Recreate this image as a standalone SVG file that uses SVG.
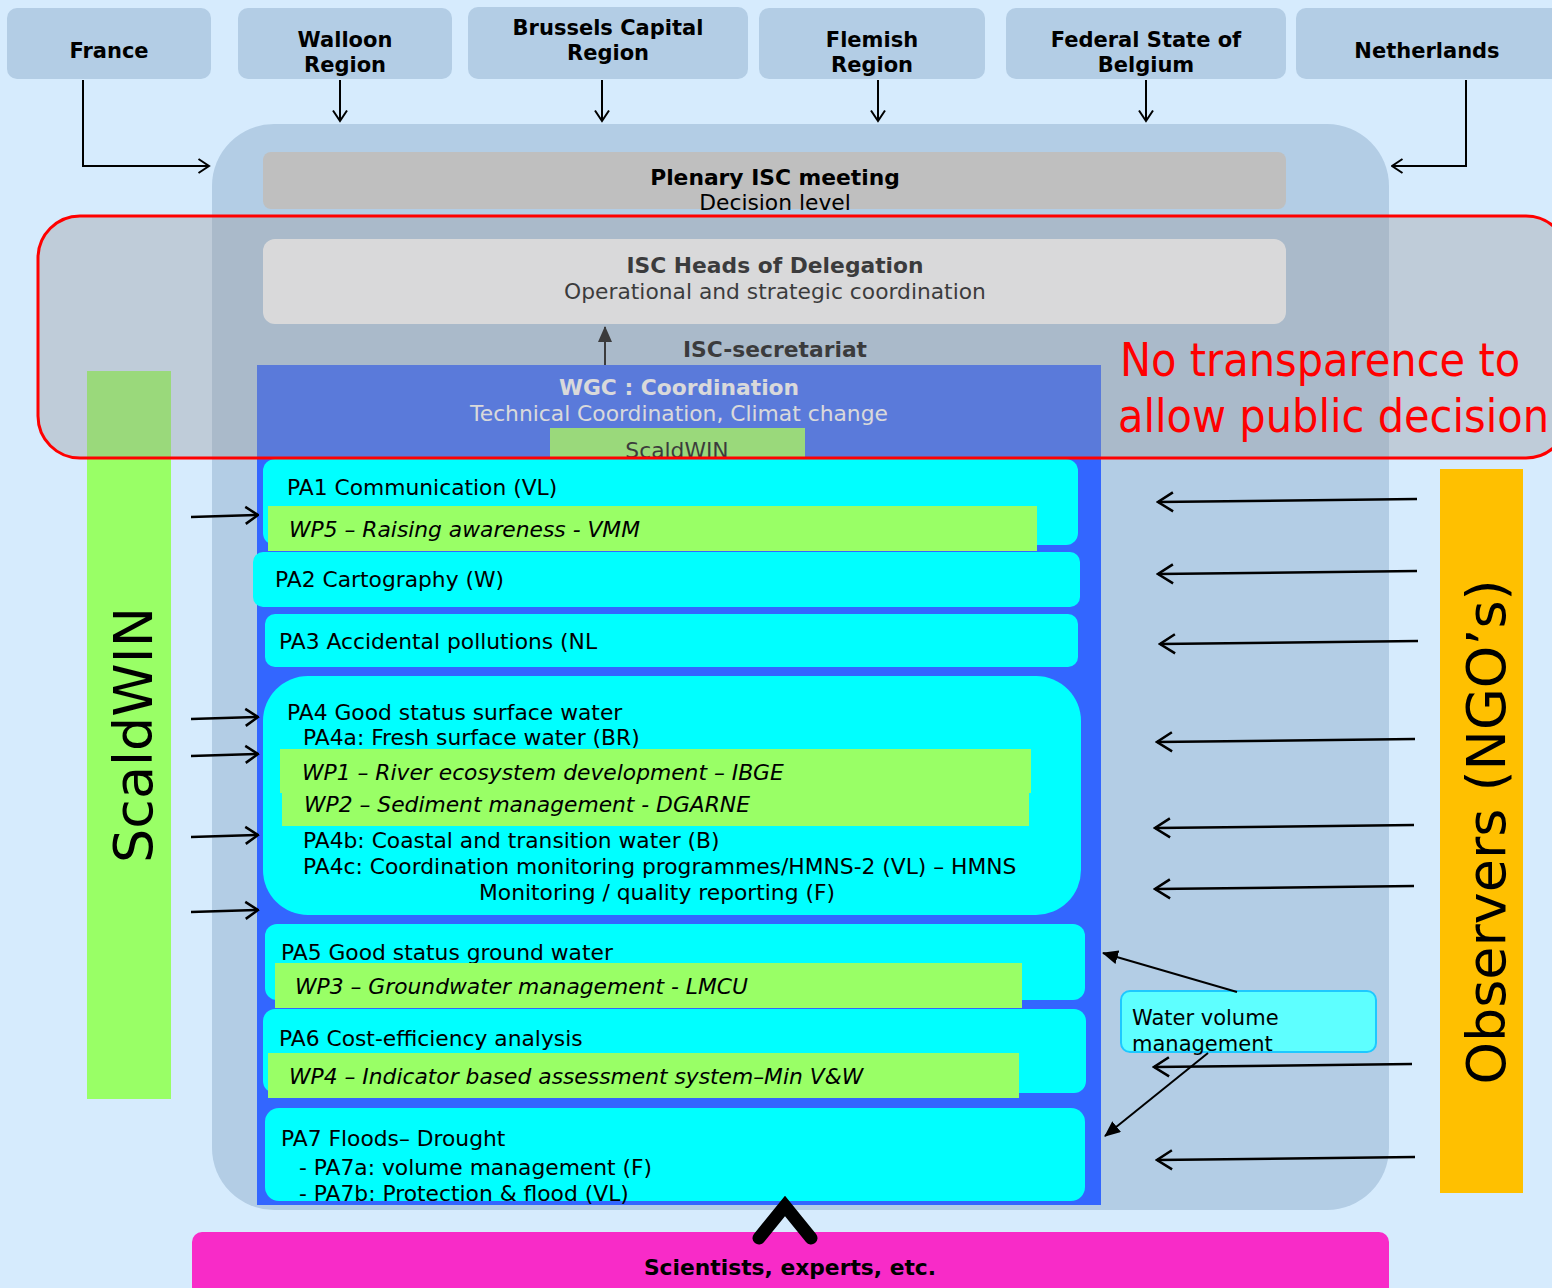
<svg xmlns="http://www.w3.org/2000/svg" width="1552" height="1288" viewBox="0 0 1552 1288">
<style>
text{font-family:"DejaVu Sans","Verdana",sans-serif;fill:#000;font-size:21.8px}
.b{font-weight:bold}
.c{text-anchor:middle}
.i{font-style:italic}
.t21{font-size:21px}
.big{font-size:54px}
.red{font-size:41.6px;fill:#ff0000}
.top{fill:#b3cde5}
.pa{fill:#00ffff}
.wp{fill:#99ff66}
.ln{stroke:#000;stroke-width:2;fill:none}
.lw{stroke:#000;stroke-width:2.5;fill:none}
</style>
<defs>
<marker id="open" viewBox="0 0 14 16" refX="12.5" refY="8" markerWidth="14" markerHeight="16" markerUnits="userSpaceOnUse" orient="auto">
<path d="M2,1 L12.5,8 L2,15" fill="none" stroke="#000" stroke-width="2"/>
</marker>
<marker id="openS" viewBox="0 0 16 20" refX="14.5" refY="10" markerWidth="16" markerHeight="20" markerUnits="userSpaceOnUse" orient="auto">
<path d="M2,1.5 L14.5,10 L2,18.5" fill="none" stroke="#000" stroke-width="2.5"/>
</marker>
<marker id="openL" viewBox="0 0 18 22" refX="16" refY="11" markerWidth="18" markerHeight="22" markerUnits="userSpaceOnUse" orient="auto">
<path d="M1,1.5 L16,11 L1,20.5" fill="none" stroke="#000" stroke-width="2.5"/>
</marker>
<marker id="fill" viewBox="0 0 16 14" refX="15" refY="7" markerWidth="16" markerHeight="14" markerUnits="userSpaceOnUse" orient="auto">
<path d="M0,0 L16,7 L0,14 Z" fill="#000"/>
</marker>
</defs>
<rect width="1552" height="1288" fill="#d6ebfd"/>

<g id="france"><rect class="top" x="7" y="8" width="204" height="71" rx="10"/><text class="b c t21" x="109" y="58">France</text></g>
<g id="walloon"><rect class="top" x="238" y="8" width="214" height="71" rx="10"/><text class="b c t21" x="345" y="47">Walloon</text><text class="b c t21" x="345" y="72">Region</text></g>
<g id="brussels"><rect class="top" x="468" y="7" width="280" height="72" rx="10"/><text class="b c t21" x="608" y="35">Brussels Capital</text><text class="b c t21" x="608" y="60">Region</text></g>
<g id="flemish"><rect class="top" x="759" y="8" width="226" height="71" rx="10"/><text class="b c t21" x="872" y="47">Flemish</text><text class="b c t21" x="872" y="72">Region</text></g>
<g id="federal"><rect class="top" x="1006" y="8" width="280" height="71" rx="10"/><text class="b c t21" x="1146" y="47">Federal State of</text><text class="b c t21" x="1146" y="72">Belgium</text></g>
<g id="netherlands"><rect class="top" x="1296" y="8" width="270" height="71" rx="10"/><text class="b c t21" x="1427" y="58">Netherlands</text></g>

<g id="isc-container"><rect x="212" y="124" width="1177" height="1086" rx="62" fill="#b3cde5"/></g>

<g id="plenary"><rect x="263" y="152" width="1023" height="57" rx="8" fill="#bfbfbf"/><text class="b c" x="775" y="185">Plenary ISC meeting</text><text class="c" x="775" y="210">Decision level</text></g>

<g id="heads"><rect x="263" y="239" width="1023" height="85" rx="12" fill="#ffffff"/><text class="b c" x="775" y="273">ISC Heads of Delegation</text><text class="c" x="775" y="299">Operational and strategic coordination</text></g>

<g id="secretariat"><text class="b c" x="775" y="357">ISC-secretariat</text></g>

<g id="scaldwin-bar"><rect x="87" y="371" width="84" height="728" fill="#99ff66"/><text class="c big" transform="translate(152,735) rotate(-90)">ScaldWIN</text></g>

<g id="wgc"><rect x="257" y="365" width="844" height="840" fill="#3366ff"/><text class="b c" x="679" y="395" style="fill:#fff">WGC : Coordination</text><text class="c" x="679" y="421" style="fill:#fff">Technical Coordination, Climat change</text></g>

<g id="scaldwin-label"><rect x="550" y="428" width="255" height="44" fill="#99ff66"/><text class="c" x="677" y="458">ScaldWIN</text></g>

<g id="pa1"><rect class="pa" x="263" y="459" width="815" height="86" rx="12"/><text x="287" y="495">PA1 Communication (VL)</text></g>
<g id="wp5"><rect class="wp" x="268" y="506" width="769" height="45"/><text class="i" x="289" y="537">WP5 – Raising awareness - VMM</text></g>
<g id="pa2"><rect class="pa" x="253" y="552" width="827" height="55" rx="10"/><text x="275" y="587">PA2 Cartography (W)</text></g>
<g id="pa3"><rect class="pa" x="265" y="614" width="813" height="53" rx="10"/><text x="279" y="649">PA3 Accidental pollutions (NL</text></g>
<g id="pa4"><rect class="pa" x="263" y="676" width="818" height="239" rx="45"/>
<text x="287" y="720">PA4 Good status surface water</text>
<text x="303" y="745">PA4a: Fresh surface water (BR)</text>
<text x="303" y="848">PA4b: Coastal and transition water (B)</text>
<text x="303" y="874">PA4c: Coordination monitoring programmes/HMNS-2 (VL) – HMNS</text>
<text class="c" x="657" y="900">Monitoring / quality reporting (F)</text></g>
<g id="wp1"><rect class="wp" x="280" y="749" width="751" height="44"/><text class="i" x="302" y="780">WP1 – River ecosystem development – IBGE</text></g>
<g id="wp2"><rect class="wp" x="282" y="791" width="747" height="35"/><text class="i" x="304" y="812">WP2 – Sediment management - DGARNE</text></g>
<g id="pa5"><rect class="pa" x="265" y="924" width="820" height="76" rx="12"/><text x="281" y="960">PA5 Good status ground water</text></g>
<g id="wp3"><rect class="wp" x="275" y="963" width="747" height="45"/><text class="i" x="295" y="994">WP3 – Groundwater management - LMCU</text></g>
<g id="pa6"><rect class="pa" x="263" y="1009" width="823" height="84" rx="12"/><text x="279" y="1046">PA6 Cost-efficiency analysis</text></g>
<g id="wp4"><rect class="wp" x="268" y="1053" width="751" height="45"/><text class="i" x="289" y="1084">WP4 – Indicator based assessment system–Min V&amp;W</text></g>
<g id="pa7"><rect class="pa" x="265" y="1108" width="820" height="93" rx="14"/>
<text x="281" y="1146">PA7 Floods– Drought</text>
<text x="299" y="1175">- PA7a: volume management (F)</text>
<text x="299" y="1201">- PA7b: Protection &amp; flood (VL)</text></g>

<g id="observers"><rect x="1440" y="469" width="83" height="724" fill="#ffc000"/><text class="c big" transform="translate(1505,832) rotate(-90)">Observers (NGO’s)</text></g>

<g id="water-volume"><rect x="1121" y="991" width="255" height="61" rx="9" fill="#5effff" stroke="#1ec8ff" stroke-width="2"/><text class="t21" x="1132" y="1025">Water volume</text><text class="t21" x="1132" y="1051">management</text></g>

<g id="scientists"><rect x="192" y="1232" width="1197" height="70" rx="10" fill="#f82bc8"/><text class="b c" x="790" y="1275">Scientists, experts, etc.</text></g>

<g id="connectors">
<polyline class="ln" points="83,80 83,166 209,166" marker-end="url(#open)"/>
<line class="ln" x1="340" y1="80" x2="340" y2="121" marker-end="url(#open)"/>
<line class="ln" x1="602" y1="80" x2="602" y2="121" marker-end="url(#open)"/>
<line class="ln" x1="878" y1="80" x2="878" y2="121" marker-end="url(#open)"/>
<line class="ln" x1="1146" y1="80" x2="1146" y2="121" marker-end="url(#open)"/>
<polyline class="ln" points="1466,80 1466,166 1392,166" marker-end="url(#open)"/>
<line x1="605" y1="365" x2="605" y2="327" stroke="#000" stroke-width="2" marker-end="url(#fill)"/>
<line class="lw" x1="191" y1="517" x2="258" y2="515" marker-end="url(#openS)"/>
<line class="lw" x1="191" y1="719" x2="258" y2="717" marker-end="url(#openS)"/>
<line class="lw" x1="191" y1="756" x2="258" y2="754" marker-end="url(#openS)"/>
<line class="lw" x1="191" y1="837" x2="258" y2="835" marker-end="url(#openS)"/>
<line class="lw" x1="191" y1="912" x2="258" y2="910" marker-end="url(#openS)"/>
<line class="lw" x1="1417" y1="499" x2="1158" y2="502" marker-end="url(#openL)"/>
<line class="lw" x1="1417" y1="571" x2="1158" y2="574" marker-end="url(#openL)"/>
<line class="lw" x1="1418" y1="641" x2="1160" y2="644" marker-end="url(#openL)"/>
<line class="lw" x1="1415" y1="739" x2="1157" y2="742" marker-end="url(#openL)"/>
<line class="lw" x1="1414" y1="825" x2="1155" y2="828" marker-end="url(#openL)"/>
<line class="lw" x1="1414" y1="886" x2="1155" y2="889" marker-end="url(#openL)"/>
<line class="lw" x1="1412" y1="1064" x2="1154" y2="1067" marker-end="url(#openL)"/>
<line class="lw" x1="1415" y1="1157" x2="1157" y2="1160" marker-end="url(#openL)"/>
<line x1="1237" y1="992" x2="1103" y2="953" stroke="#000" stroke-width="2" marker-end="url(#fill)"/>
<line x1="1208" y1="1053" x2="1105" y2="1136" stroke="#000" stroke-width="2" marker-end="url(#fill)"/>
<polyline points="759,1238 785,1206 811,1238" fill="none" stroke="#000" stroke-width="13" stroke-linecap="round" stroke-linejoin="miter"/>
</g>

<g id="no-transparence">
<rect x="38" y="216" width="1530" height="242" rx="42" fill="#9c9c9e" fill-opacity="0.38" stroke="#ff0000" stroke-width="3"/>
<text class="red" transform="translate(1120,376) scale(1,1.1)">No transparence to</text>
<text class="red" transform="translate(1118,432) scale(1,1.1)">allow public decision</text>
</g>
</svg>
